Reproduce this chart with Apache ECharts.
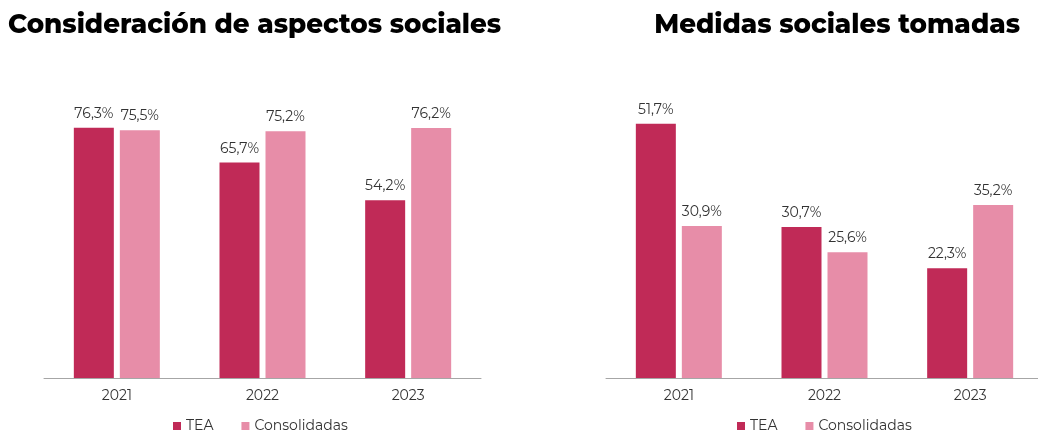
<!DOCTYPE html>
<html><head><meta charset="utf-8">
<script src="https://cdn.jsdelivr.net/npm/echarts@6/dist/echarts.min.js"></script>
<style>html,body{margin:0;padding:0;background:#fff;overflow:hidden;width:1038px;height:432px}#c{width:1044px;height:432px}</style>
</head><body><div id="c"></div>
<script>
const categories = ['2021', '2022', '2023'];
const leftTitle = 'Consideración de aspectos sociales';
const rightTitle = 'Medidas sociales tomadas';
const leftTEA = [76.3, 65.7, 54.2];
const leftCons = [75.5, 75.2, 76.2];
const rightTEA = [51.7, 30.7, 22.3];
const rightCons = [30.9, 25.6, 35.2];
const seriesNames = ['TEA', 'Consolidadas'];
const colors = ['#C02A57', '#E78DA8'];

const font = 'Montserrat, "Open Sans", sans-serif';
const lbl = {
  show: true, position: 'top', distance: 7, color: '#333', fontSize: 14, fontFamily: font,
  formatter: p => p.value.toFixed(1).replace('.', ',') + '%'
};
function bar(name, data, idx, color) {
  return {
    type: 'bar', name, data, xAxisIndex: idx, yAxisIndex: idx,
    barWidth: 40, barGap: '15%', itemStyle: { color }, label: lbl, silent: true
  };
}
const xa = idx => ({
  type: 'category', data: categories, gridIndex: idx,
  axisLine: { lineStyle: { color: '#A6A6A6', width: 1 } }, axisTick: { show: false },
  axisLabel: { color: '#333', fontSize: 14, fontFamily: font, margin: 11 }
});
const ya = (idx, max) => ({
  type: 'value', gridIndex: idx, min: 0, max,
  show: false, splitLine: { show: false }
});
const leg = (center) => ({
  data: seriesNames, left: center, top: 414, itemWidth: 8, itemHeight: 8, itemGap: 28,
  icon: 'rect', textStyle: { color: '#333', fontSize: 14, fontFamily: font }, selectedMode: false
});
const chart = echarts.init(document.getElementById('c'));
chart.setOption({
  animation: false,
  color: colors,
  title: [
    { text: leftTitle, left: 3, top: 7, textStyle: { fontSize: 26.2, fontWeight: 800, color: '#000', fontFamily: font } },
    { text: rightTitle, right: 19, top: 7, textStyle: { fontSize: 26.2, fontWeight: 800, color: '#000', fontFamily: font } }
  ],
  grid: [
    { left: 44, width: 437, top: 50, bottom: 54 },
    { left: 606, width: 437, top: 83, bottom: 54 }
  ],
  xAxis: [xa(0), xa(1)],
  yAxis: [ya(0, 100), ya(1, 60)],
  legend: [leg(168), leg(732)],
  series: [
    bar(seriesNames[0], leftTEA, 0, colors[0]),
    bar(seriesNames[1], leftCons, 0, colors[1]),
    bar(seriesNames[0], rightTEA, 1, colors[0]),
    bar(seriesNames[1], rightCons, 1, colors[1])
  ]
});
</script></body></html>
